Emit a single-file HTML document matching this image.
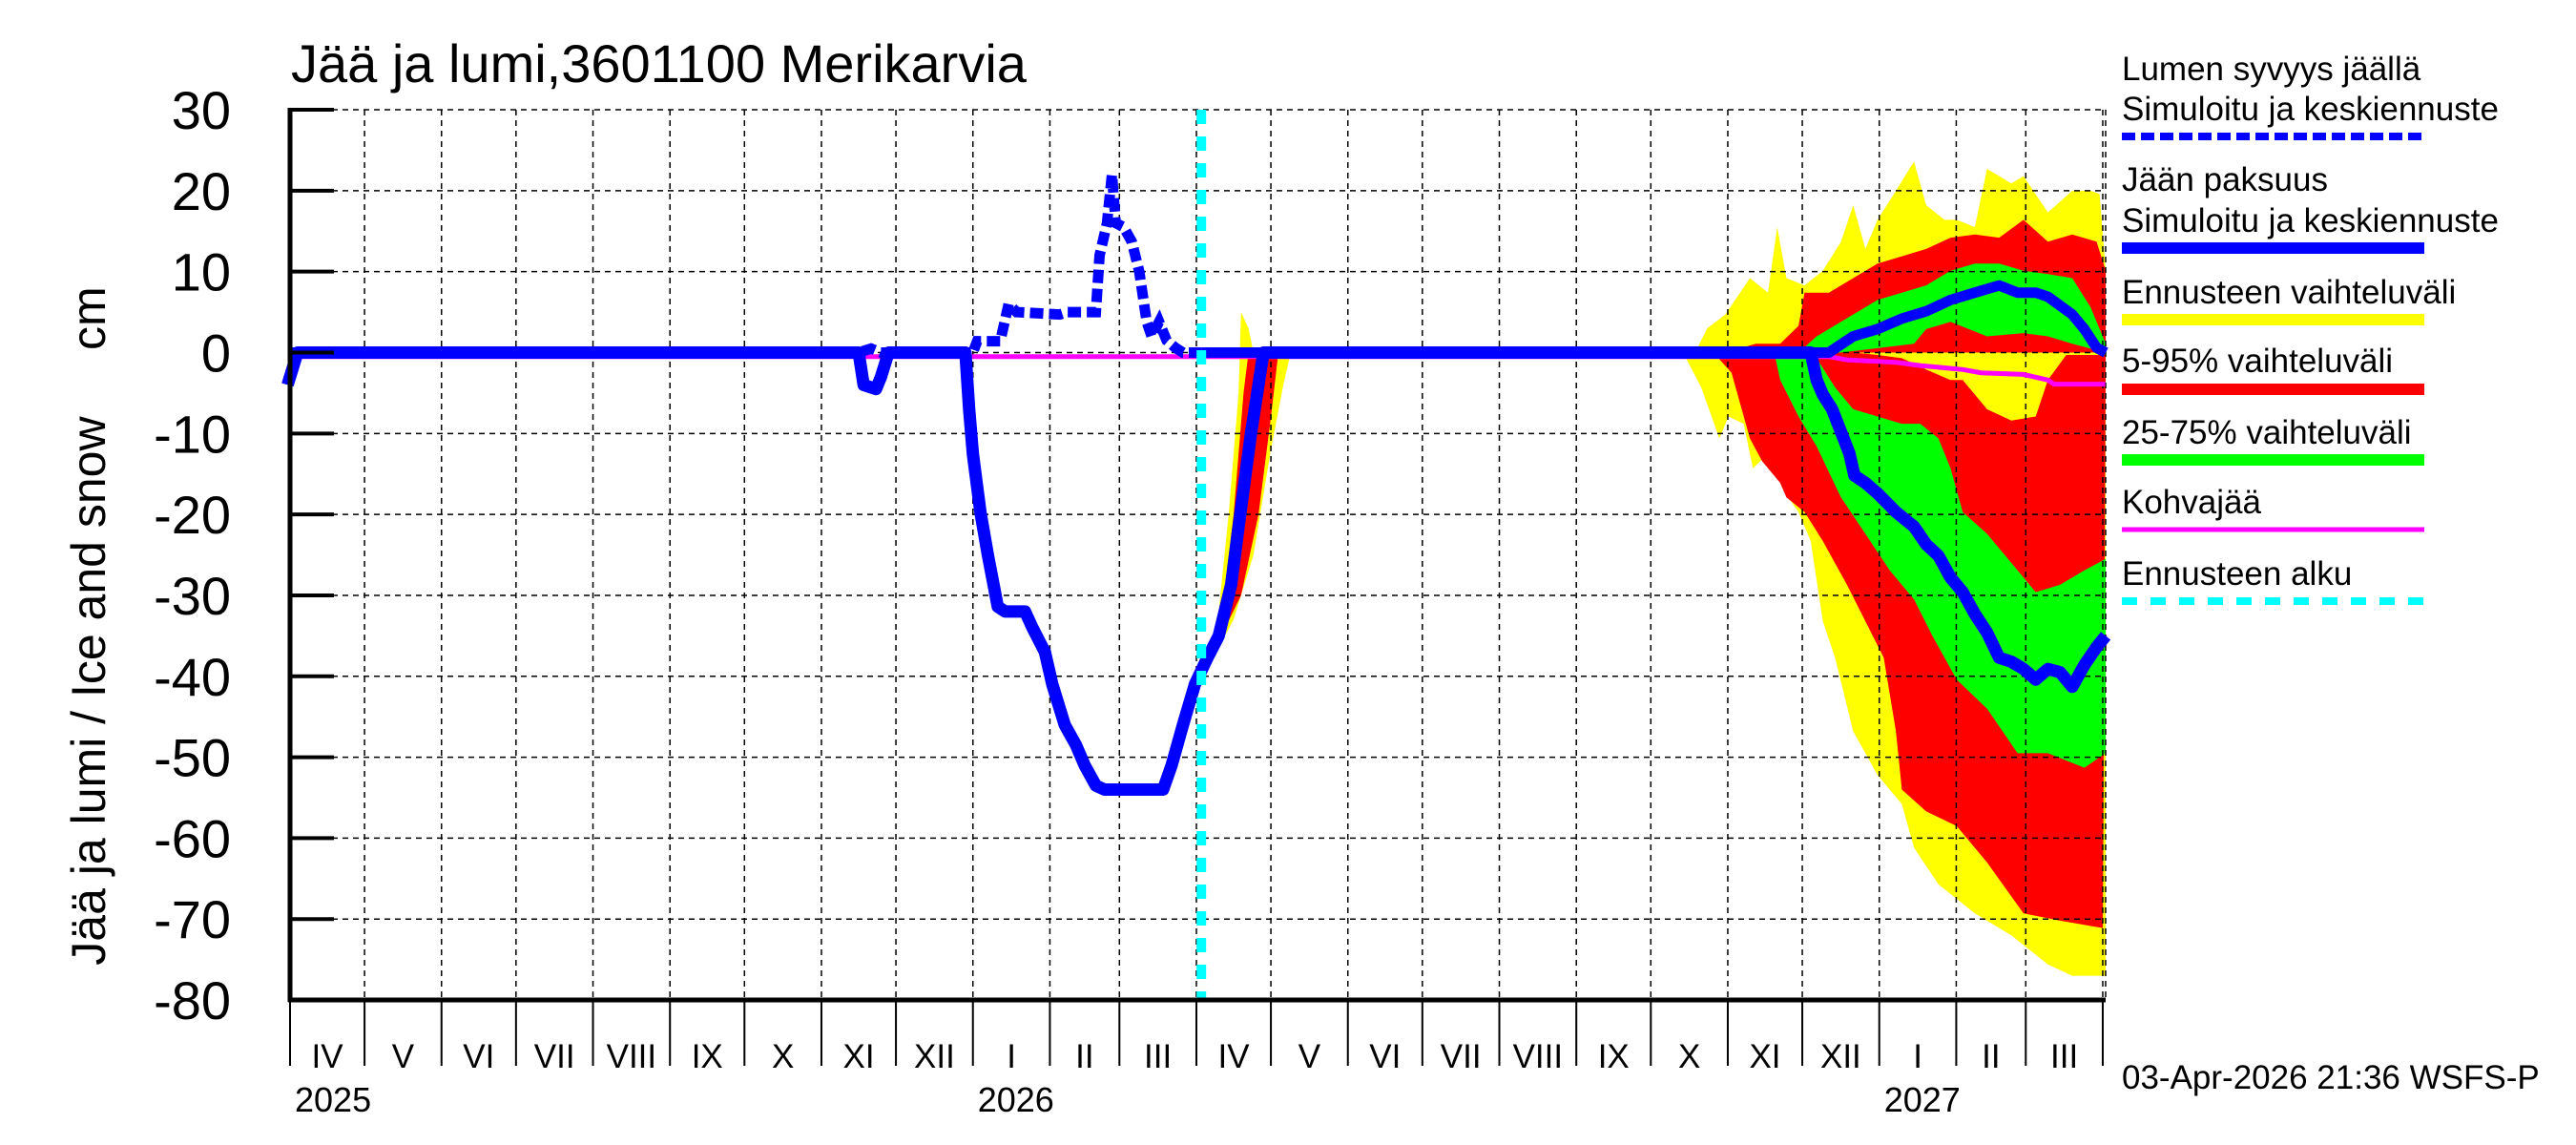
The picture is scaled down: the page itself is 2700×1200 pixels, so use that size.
<!DOCTYPE html>
<html><head><meta charset="utf-8"><style>
body{margin:0;background:#fff;}
svg{display:block;font-family:"Liberation Sans",sans-serif;}
</style></head><body>
<svg id="chart" width="2700" height="1200" viewBox="0 0 2700 1200" xmlns="http://www.w3.org/2000/svg">
<rect width="2700" height="1200" fill="#fff"/>
<g id="bands"></g>
<g id="grid"></g>
<g id="series"></g>
<g id="axes"></g>
<text x="305" y="86" font-size="56">Jää ja lumi,3601100 Merikarvia</text>
<text transform="translate(110,656) rotate(-90)" text-anchor="middle" font-size="50" xml:space="preserve">Jää ja lumi / Ice and snow     cm</text>
<g font-size="35">
<text x="2224" y="84">Lumen syvyys jäällä</text>
<text x="2224" y="126">Simuloitu ja keskiennuste</text>
<line x1="2224" y1="143" x2="2541" y2="143" stroke="#0000ff" stroke-width="8" stroke-dasharray="14,6"/>
<text x="2224" y="200">Jään paksuus</text>
<text x="2224" y="243">Simuloitu ja keskiennuste</text>
<line x1="2224" y1="260" x2="2541" y2="260" stroke="#0000ff" stroke-width="12"/>
<text x="2224" y="318">Ennusteen vaihteluväli</text>
<line x1="2224" y1="335" x2="2541" y2="335" stroke="#ffff00" stroke-width="12"/>
<text x="2224" y="390">5-95% vaihteluväli</text>
<line x1="2224" y1="408" x2="2541" y2="408" stroke="#ff0000" stroke-width="12"/>
<text x="2224" y="465">25-75% vaihteluväli</text>
<line x1="2224" y1="482" x2="2541" y2="482" stroke="#00ff00" stroke-width="12"/>
<text x="2224" y="538">Kohvajää</text>
<line x1="2224" y1="555" x2="2541" y2="555" stroke="#ff00ff" stroke-width="5"/>
<text x="2224" y="613">Ennusteen alku</text>
<line x1="2224" y1="630" x2="2541" y2="630" stroke="#00ffff" stroke-width="8" stroke-dasharray="16,14"/>
</g>
<text x="2224" y="1141" font-size="35">03-Apr-2026 21:36 WSFS-P</text>
</svg>
<script>
// Data: day offsets from 2025-04-01, values in cm
const yTicks = [30,20,10,0,-10,-20,-30,-40,-50,-60,-70,-80];
const monthLabels = ["IV","V","VI","VII","VIII","IX","X","XI","XII","I","II","III","IV","V","VI","VII","VIII","IX","X","XI","XII","I","II","III"];
const monthStarts = [0,30,61,91,122,153,183,214,244,275,306,334,365,395,426,456,487,518,548,579,609,640,671,699,730];
const yearLabels = ["2025","2026","2027"];
const yearDays = [0,275,640];
const forecastStartDay = 367;

const iceObs = [[-1,-4],[3,0],[229,0],[231,-4],[236,-4.5],[238,-3],[241,0],[272,0],[273.5,-7],[275,-12.5],[278,-19.7],[281,-25],[285,-31.4],[288,-32],[296,-32],[299,-34],[304,-37],[307,-41],[312,-46],[316.5,-48.5],[320,-51],[324.5,-53.5],[328,-54],[351.6,-54],[355,-51],[359.6,-46],[364.4,-41],[369,-38],[374,-35],[379,-28.7],[382,-21.5],[387,-10],[392,0],[612.4,0],[614.8,-3.4],[617.3,-5.2],[621,-7],[624.6,-9.8],[628,-12.5],[630,-15.2],[634.4,-16.1],[639.3,-17.4],[646.7,-19.7],[654,-21.5],[658.9,-23.7],[663.8,-25.1],[668.7,-27.8],[673.6,-29.6],[678.5,-32.3],[683.4,-34.6],[688.3,-37.7],[693.2,-38.2],[698.1,-39.1],[703,-40.4],[707.9,-39.1],[712.8,-39.5],[717.7,-41.3],[722.6,-38.6],[727.5,-36.4],[731.2,-35]];
const snowObs = [[0,0],[229,0],[234,0.5],[238,0],[275,0],[276.7,1.4],[286,1.4],[289.4,6],[292.6,5],[310,4.7],[313,5],[324.5,5],[326,12],[329,16],[331,22],[332.5,16],[335.7,15.5],[339,13.7],[342,10],[345,3.8],[347,2],[350,3.8],[353,1.5],[356.5,0.6],[359.6,0],[367,0]];
const snowMedian = [[367,0],[619.7,0],[629.5,2],[639.3,2.9],[649.1,4.2],[658.9,5.1],[668.7,6.5],[678.5,7.4],[688.3,8.3],[695.7,7.4],[703,7.4],[707.9,6.9],[717.7,4.7],[722.6,2.9],[727.5,0.6],[731.2,0]];
const slush = [[0,-0.5],[619.7,-0.5],[627,-0.9],[646.6,-1.2],[656.4,-1.6],[673.6,-2.1],[681,-2.5],[698,-2.7],[708,-3.4],[710.3,-3.9],[731,-3.9]];

const spring26YellowUp = [[373,-35],[378,-20],[382,-5],[383,5],[386,3],[388,0]];
const spring26YellowLo = [[373,-37],[380,-33],[388,-25],[395,-12],[400,-4],[403,0]];
const spring26RedUp = [[375,-33],[380,-20],[384,-5],[386,0]];
const spring26RedLo = [[375,-35],[383,-30],[390,-20],[395,-8],[398,0]];

const snowYellowTop = [[561,0],[565.8,0],[570.7,3],[578,4.7],[587.9,9.2],[595.2,7.4],[598.9,15.5],[602.6,9.2],[609.9,8.3],[617.3,10.1],[624.6,13.7],[629.5,18.2],[634.4,12.8],[639.3,16.4],[646.7,20],[654,23.6],[658.9,18.2],[666.3,16.4],[671.2,16.4],[678.5,15.5],[683.4,22.7],[693.2,20.9],[698.1,21.8],[707.9,17.3],[717.7,20],[725.1,20],[728.7,19.6],[731.2,10.1]];
const snowRedTop = [[578,0],[590.3,1.1],[600.1,1.1],[607.5,3.3],[609.9,7.4],[619.7,7.4],[629.5,9.2],[639.3,11],[649.1,11.9],[658.9,12.8],[668.7,14.2],[678.5,14.6],[688.3,14.2],[698.1,16.4],[707.9,13.7],[717.7,14.6],[727.5,13.7],[731.2,10.1]];
const snowGreenTop = [[607.5,0],[614.8,2],[624.6,3.8],[639.3,6.5],[649.1,7.4],[658.9,8.3],[668.7,10.1],[678.5,11],[688.3,11],[698.1,10.1],[707.9,9.7],[717.7,9.2],[725.1,5.6],[731.2,1.1]];
const snowGreenBottom = [[607.5,0],[624.6,0],[654,1.1],[658.9,2.9],[668.7,3.8],[683.4,2],[698.1,2.4],[707.9,2],[717.7,1.1],[731.2,0]];

const iceYellowUp = [[561,0],[731.2,0]];
const iceYellowLo = [[561,0],[568.3,-4.3],[575.6,-10.6],[579.3,-7.9],[585.4,-8.8],[589.1,-14.3],[595.2,-12.5],[601.3,-17],[607.5,-19.7],[612.4,-23.3],[617.3,-33.2],[622.2,-37.7],[629.5,-46.8],[639.3,-52.2],[649.1,-55.8],[654,-61.2],[663.8,-65.7],[678.5,-69.3],[693.2,-72],[707.9,-75.6],[717.7,-77],[731.2,-77]];
const iceRedUp = [[573.2,0],[629.5,0],[639.3,-0.3],[649.1,-0.7],[658.9,-2.1],[668.7,-3.4],[673.6,-3.4],[683.4,-7],[693.2,-8.4],[703,-7.9],[707.9,-3.4],[715.3,-0.3],[731.2,-0.3]];
const iceRedLo = [[573.2,0],[580.5,-2.5],[587.9,-10.6],[592.8,-13.4],[600.1,-16.1],[602.6,-17.9],[609.9,-19.7],[617.3,-23.3],[627,-28.7],[634.4,-33.2],[641.8,-37.7],[646.7,-46.8],[649.1,-54],[658.9,-56.7],[671.2,-58.5],[683.4,-63],[698.1,-69.3],[712.8,-70.2],[730,-71.1]];
const iceGreenUp = [[597.7,0],[609.9,0],[614.8,-0.7],[622.2,-4.3],[629.5,-7],[639.3,-7.9],[649.1,-8.8],[656.5,-8.8],[663.8,-10.6],[668.7,-14.3],[673.6,-19.7],[683.4,-22.4],[693.2,-26],[703,-29.6],[712.8,-28.7],[722.6,-26.9],[731.2,-25.5]];
const iceGreenLo = [[597.7,0],[600.1,-3.4],[607.5,-7.9],[614.8,-11.6],[624.6,-17.9],[634.4,-22.4],[644.2,-26.9],[654,-30.5],[661.4,-35],[671.2,-40.4],[683.4,-44],[695.7,-49.5],[707.9,-49.5],[722.6,-51.3],[731.2,-49.5]];

const X0 = 304, PXD = 2.6027, Y0 = 369.5, PXC = 8.482;
const LEFT = 304, RIGHT = 2207, TOP = 115, BOTTOM = 1048;
function xs(d){ return X0 + d*PXD; }
function ys(v){ return Y0 - v*PXC; }
const NS = "http://www.w3.org/2000/svg";
function mk(tag, parent, attrs){ const e = document.createElementNS(NS, tag); for (const k in attrs) e.setAttribute(k, attrs[k]); parent.appendChild(e); return e; }
function pts(a){ return a.map(p => xs(p[0]).toFixed(1)+","+ys(p[1]).toFixed(1)).join(" "); }
function band(up, lo, color, name){
  const poly = mk("polygon", document.getElementById("bands"), {points: pts(up)+" "+pts(lo.slice().reverse()), fill: color});
  
  
}
const zero = a => [[a[0][0],0],[a[a.length-1][0],0]];
band(spring26YellowUp, spring26YellowLo, "#ffff00", "spring-2026-range");
band(spring26RedUp, spring26RedLo, "#ff0000", "spring-2026-5-95");
band(snowYellowTop, zero(snowYellowTop), "#ffff00", "snow-range-band");
band(iceYellowUp, iceYellowLo, "#ffff00", "ice-range-band");
band(snowRedTop, zero(snowRedTop), "#ff0000", "snow-5-95-band");
band(iceRedUp, iceRedLo, "#ff0000", "ice-5-95-band");
band(snowGreenTop, snowGreenBottom, "#00ff00", "snow-25-75-band");
band(iceGreenUp, iceGreenLo, "#00ff00", "ice-25-75-band");

const grid = document.getElementById("grid");
yTicks.forEach(v => {
  const l = mk("line", grid, {x1: LEFT, x2: RIGHT, y1: ys(v), y2: ys(v), stroke: "#000", "stroke-width": 1.5, "stroke-dasharray": "6,5"});
  
  
});
monthStarts.forEach(d => {
  const l = mk("line", grid, {x1: xs(d), x2: xs(d), y1: TOP, y2: BOTTOM, stroke: "#000", "stroke-width": 1.5, "stroke-dasharray": "6,5"});
  
  
});
const edge = mk("line", grid, {x1: RIGHT, x2: RIGHT, y1: TOP, y2: BOTTOM, stroke: "#000", "stroke-width": 1.5, "stroke-dasharray": "6,5"});



const ser = document.getElementById("series");
const slushLine = mk("polyline", ser, {points: pts(slush), fill: "none", stroke: "#ff00ff", "stroke-width": 5});


const iceLine = mk("polyline", ser, {points: pts(iceObs), fill: "none", stroke: "#0000ff", "stroke-width": 13, "stroke-linejoin": "round"});


const snowLine = mk("polyline", ser, {points: pts(snowObs), fill: "none", stroke: "#0000ff", "stroke-width": 11, "stroke-dasharray": "14,6"});


const snowMed = mk("polyline", ser, {points: pts(snowMedian), fill: "none", stroke: "#0000ff", "stroke-width": 11, "stroke-linejoin": "round"});


const fs = mk("line", ser, {x1: xs(forecastStartDay), x2: xs(forecastStartDay), y1: TOP, y2: BOTTOM, stroke: "#00ffff", "stroke-width": 10, "stroke-dasharray": "15,13"});



const ax = document.getElementById("axes");
const yl = mk("line", ax, {x1: LEFT, x2: LEFT, y1: TOP-2, y2: BOTTOM+2, stroke: "#000", "stroke-width": 5});


const xl = mk("line", ax, {x1: LEFT-2, x2: RIGHT, y1: BOTTOM, y2: BOTTOM, stroke: "#000", "stroke-width": 5});


yTicks.forEach(v => {
  const t = mk("line", ax, {x1: LEFT, x2: 350, y1: ys(v), y2: ys(v), stroke: "#000", "stroke-width": 4});
  
  
  const tx = mk("text", ax, {x: 242, y: ys(v)+20, "text-anchor": "end", "font-size": 56});
  
  
  tx.textContent = v;
});
monthStarts.forEach((d, i) => {
  const t = mk("line", ax, {x1: xs(d), x2: xs(d), y1: BOTTOM, y2: 1117, stroke: "#000", "stroke-width": 2});
  
  
  if (i < monthLabels.length) {
    const tx = mk("text", ax, {x: (xs(d)+xs(monthStarts[i+1]))/2, y: 1119, "text-anchor": "middle", "font-size": 35});
    
    
    tx.textContent = monthLabels[i];
  }
});
yearLabels.forEach((y, i) => {
  const tx = mk("text", ax, {x: xs(yearDays[i])+5, y: 1165, "font-size": 36});
  
  
  tx.textContent = y;
});
</script>
</body></html>
